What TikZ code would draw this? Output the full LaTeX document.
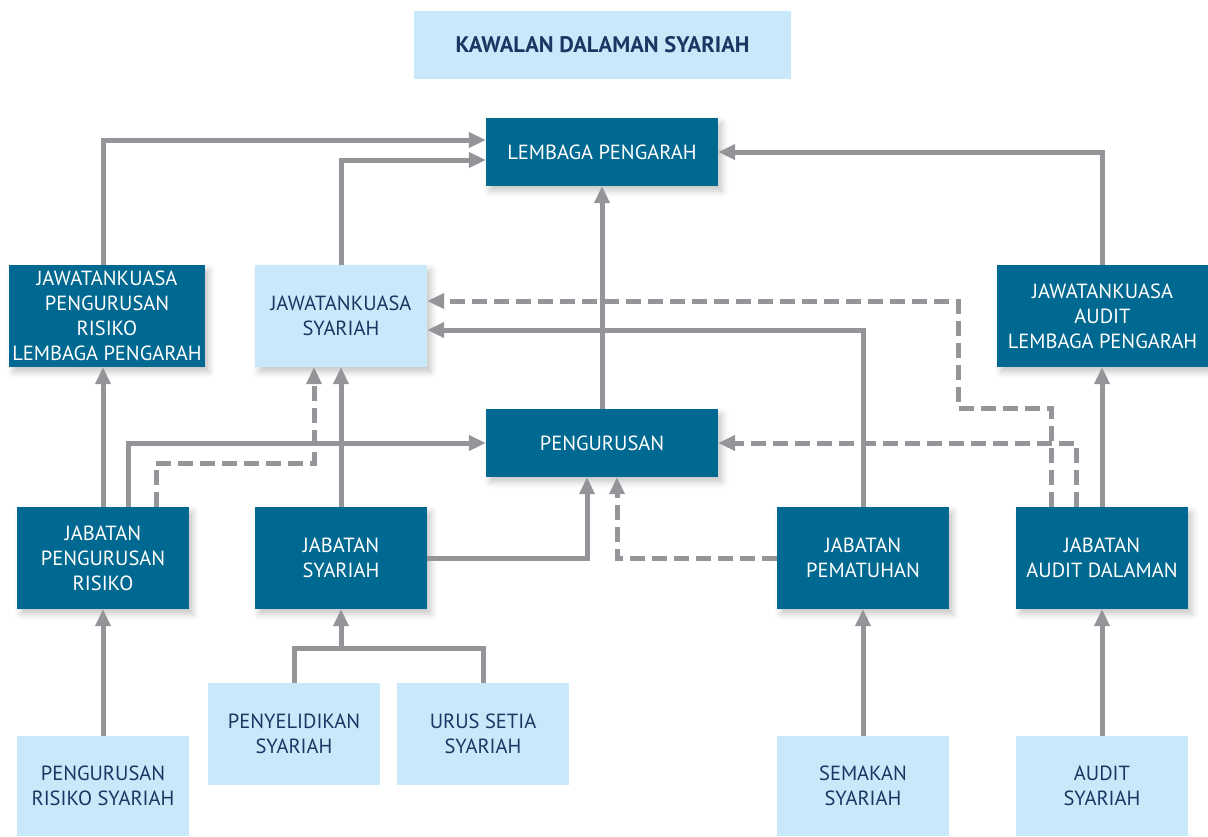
\documentclass[tikz,border=0pt]{standalone}
\usepackage{fontspec}
\setmainfont{PT Sans}
\usetikzlibrary{arrows.meta,shadows.blur}
\definecolor{boxdark}{HTML}{006991}
\definecolor{boxlight}{HTML}{C7E9F9}
\definecolor{textnavy}{HTML}{1C3664}
\definecolor{linegray}{HTML}{939598}

\begin{document}
\begin{tikzpicture}[x=1pt,y=-1pt,
  >={Triangle[length=17pt,width=15pt]},
  unit/.style={inner sep=0pt,align=center,font=\fontsize{20.5}{25}\selectfont,minimum width=172pt,minimum height=102pt},
  dark/.style={unit,fill=boxdark,text=white,blur shadow={shadow xshift=4pt,shadow yshift=-5pt,shadow blur radius=6pt,shadow opacity=22}},
  light/.style={unit,fill=boxlight,text=textnavy},
  conn/.style={->,draw=linegray,line width=5pt},
  dconn/.style={conn,dash pattern=on 15pt off 7pt}]
  \useasboundingbox (0,0) rectangle (1208,836);

  \node[light,minimum width=377pt,minimum height=68pt,font=\fontsize{22.5}{25}\selectfont\bfseries] (title) at (602.5,45) {KAWALAN DALAMAN SYARIAH};

  \node[dark,minimum width=232pt,minimum height=68pt] (lp) at (602,152) {LEMBAGA PENGARAH};
  \node[dark,minimum width=196pt] (jkprlp) at (107,316) {JAWATANKUASA\\PENGURUSAN\\RISIKO\\LEMBAGA PENGARAH};
  \node[light,blur shadow={shadow xshift=4pt,shadow yshift=-5pt,shadow blur radius=6pt,shadow opacity=22}] (jks) at (341,316) {JAWATANKUASA\\SYARIAH};
  \node[dark,minimum width=211pt] (jkalp) at (1102.5,316) {JAWATANKUASA\\AUDIT\\LEMBAGA PENGARAH};
  \node[dark,minimum width=232pt,minimum height=68pt] (peng) at (602,443) {PENGURUSAN};

  \node[dark] (jpr) at (103,558) {JABATAN\\PENGURUSAN\\RISIKO};
  \node[dark] (jsy) at (341,558) {JABATAN\\SYARIAH};
  \node[dark] (jpm) at (863,558) {JABATAN\\PEMATUHAN};
  \node[dark] (jad) at (1102,558) {JABATAN\\AUDIT DALAMAN};

  \node[light,minimum height=100pt] (prs) at (103,786) {PENGURUSAN\\RISIKO SYARIAH};
  \node[light] (pnys) at (294,734) {PENYELIDIKAN\\SYARIAH};
  \node[light] (uss) at (483,734) {URUS SETIA\\SYARIAH};
  \node[light,minimum height=100pt] (sem) at (863,786) {SEMAKAN\\SYARIAH};
  \node[light,minimum height=100pt] (aud) at (1102,786) {AUDIT\\SYARIAH};

  \coordinate (jsyin) at (341,648);

  % links up to the board
  \draw[conn] (jkprlp.north -| jpr.north) |- ([yshift=12pt]lp.west);
  \draw[conn] (jks.north) |- ([yshift=-8pt]lp.west);
  \draw[conn] (jkalp.north -| jad.north) |- (lp.east);
  \draw[conn] (peng.north) -- (lp.south);

  % committees
  \draw[conn] (jpr.north) -- (jpr.north |- jkprlp.south);
  \draw[conn] (jsy.north) -- (jks.south);
  \draw[conn] (jad.north) -- (jad.north |- jkalp.south);
  \draw[conn] (jpm.north) |- ([yshift=-14pt]jks.east);
  \draw[dconn] ([xshift=-51pt]jad.north) |- (958,408) |- ([yshift=15pt]jks.east);
  \draw[dconn] ([xshift=53pt]jpr.north) |- (314,463) -- ([xshift=-27pt]jks.south);

  % management
  \draw[conn] ([xshift=25pt]jpr.north) |- (peng.west);
  \draw[conn] (jsy.east) -| ([xshift=-15pt]peng.south);
  \draw[dconn] (jpm.west) -| ([xshift=15pt]peng.south);
  \draw[dconn] ([xshift=-26pt]jad.north) |- (peng.east);

  % units below
  \draw[draw=linegray,line width=5pt] (pnys.north) |- (jsyin) -| (uss.north);
  \draw[conn] (jsyin) -- (jsy.south);
  \draw[conn] (prs.north) -- (jpr.south);
  \draw[conn] (sem.north) -- (jpm.south);
  \draw[conn] (aud.north) -- (jad.south);
\end{tikzpicture}
\end{document}
